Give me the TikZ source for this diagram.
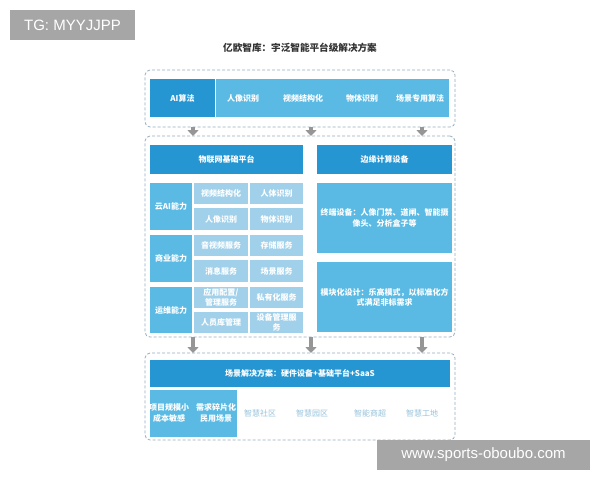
\documentclass[tikz,border=0pt]{standalone}
\usepackage{fontspec}
\setmainfont{Noto Sans CJK SC}
\newfontfamily\wmfont{Liberation Sans}
\usetikzlibrary{arrows.meta}
\definecolor{dblue}{RGB}{38,150,210}
\definecolor{mblue}{RGB}{90,186,227}
\definecolor{lblue}{RGB}{160,208,234}
\definecolor{gtext}{RGB}{150,195,220}
\definecolor{frame}{RGB}{150,175,190}
\definecolor{agray}{RGB}{150,150,150}
\definecolor{wgray}{RGB}{166,166,166}
\newcommand{\pbox}[7]{%
  \node[#6, minimum width={(#4-#2)*1pt}, minimum height={(#5-#3)*1pt}] (#1) at ({(#2+#4)/2},{(#3+#5)/2}) {#7};}
\tikzset{
  base/.style={inner sep=0pt, outer sep=0pt, align=center, font=\fontsize{8}{10.2}\selectfont\bfseries, text=white},
  dbox/.style={base, fill=dblue},
  mbox/.style={base, fill=mblue},
  lbox/.style={base, fill=lblue},
  dframe/.style={base, draw=frame, dashed, line width=0.8pt, rounded corners=5pt, dash pattern=on 3pt off 2pt},
  gtxt/.style={base, text=gtext, font=\fontsize{8}{10.2}\selectfont},
  barrow/.style={draw=agray, line width=4.5pt, -{Triangle[width=11pt,length=6pt]}},
  wmark/.style={inner sep=0pt, fill=wgray, text=white, font=\wmfont\fontsize{15}{18}\selectfont}
}
\begin{document}
\begin{tikzpicture}[x=1pt,y=-1pt]
\useasboundingbox (0,0) rectangle (600,480);
\fill[white] (0,0) rectangle (600,480);
% watermark top
\pbox{wmtop}{10}{10}{135}{40}{wmark}{TG: MYYJJPP}
% title
\node[inner sep=0pt, font=\fontsize{9.6}{12}\selectfont\bfseries, text=black!80] (title) at (300,48) {亿欧智库：宇泛智能平台级解决方案};
% frames
\pbox{topframe}{145}{70}{455}{127}{dframe}{}
\pbox{midframe}{145}{136}{455}{337}{dframe}{}
\pbox{botframe}{145}{353}{455}{440}{dframe}{}
% top row
\pbox{ai}{150}{79}{215}{117}{dbox}{AI算法}
\pbox{algo}{216}{79}{449}{117}{mbox}{}
\node[base] (rx) at (243,98) {人像识别};
\node[base] (sp) at (303,98) {视频结构化};
\node[base] (wt) at (362,98) {物体识别};
\node[base] (cj) at (420,98) {场景专用算法};
% arrows
\coordinate (c1) at (193,0);
\coordinate (c2) at (311,0);
\coordinate (c3) at (422,0);
\foreach \c in {c1,c2,c3}{
  \draw[barrow] (topframe.south -| \c) -- (midframe.north -| \c);
  \draw[barrow] (midframe.south -| \c) -- (botframe.north -| \c);
}
% middle headers
\pbox{iot}{150}{145}{303}{174}{dbox}{物联网基础平台}
\pbox{edge}{317}{145}{452}{174}{dbox}{边缘计算设备}
% capability labels
\pbox{cap1}{150}{183}{192}{230}{mbox}{云AI能力}
\pbox{cap2}{150}{235}{192}{282}{mbox}{商业能力}
\pbox{cap3}{150}{287}{192}{333}{mbox}{运维能力}
% cells
\pbox{a1}{194}{183}{248}{204}{lbox}{视频结构化}
\pbox{a2}{250}{183}{303}{204}{lbox}{人体识别}
\pbox{a3}{194}{208}{248}{230}{lbox}{人像识别}
\pbox{a4}{250}{208}{303}{230}{lbox}{物体识别}
\pbox{b1}{194}{235}{248}{256}{lbox}{音视频服务}
\pbox{b2}{250}{235}{303}{256}{lbox}{存储服务}
\pbox{b3}{194}{260}{248}{282}{lbox}{消息服务}
\pbox{b4}{250}{260}{303}{282}{lbox}{场景服务}
\pbox{d1}{194}{287}{248}{308}{lbox}{应用配置/\\管理服务}
\pbox{d2}{250}{287}{303}{308}{lbox}{私有化服务}
\pbox{d3}{194}{312}{248}{333}{lbox}{人员库管理}
\pbox{d4}{250}{312}{303}{333}{lbox}{设备管理服\\务}
% right boxes
\pbox{term}{317}{183}{452}{253}{mbox}{终端设备：人像门禁、道闸、智能摄\\像头、分析盒子等}
\pbox{modu}{317}{262}{452}{332}{mbox}{模块化设计：乐高模式，以标准化方\\式满足非标需求}
% bottom
\pbox{scene}{150}{360}{450}{387}{dbox}{场景解决方案：硬件设备+基础平台+SaaS}
\pbox{feat}{150}{390}{237}{437}{mbox}{}
\node[base] (f1) at (169,413) {项目规模小\\成本敏感};
\node[base] (f2) at (216,413) {需求碎片化\\民用场景};
\node[gtxt] (s1) at (260,413) {智慧社区};
\node[gtxt] (s2) at (312,413) {智慧园区};
\node[gtxt] (s3) at (370,413) {智能商超};
\node[gtxt] (s4) at (422,413) {智慧工地};
% watermark bottom
\pbox{wmbot}{377}{440}{590}{470}{wmark}{www.sports-oboubo.com}
\end{tikzpicture}
\end{document}
